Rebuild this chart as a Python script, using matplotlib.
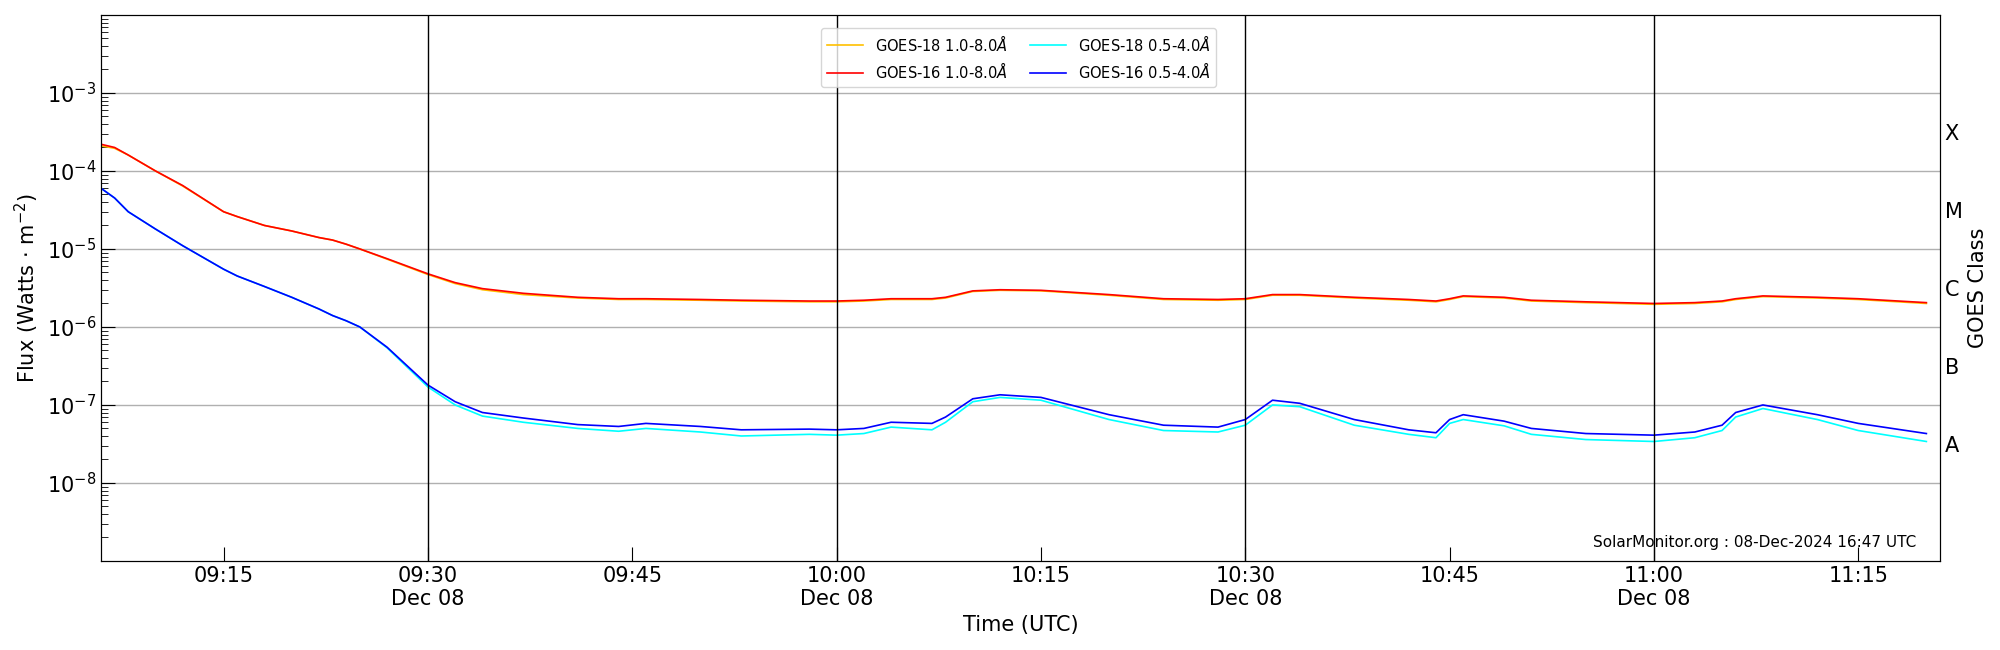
import matplotlib
matplotlib.use("Agg")
import matplotlib.pyplot as plt
import matplotlib.dates as mdates
import matplotlib.ticker as mticker
import pandas as pd
import numpy as np

times = ["09:06","09:07","09:08","09:10","09:12","09:15","09:16","09:18","09:20","09:22","09:23","09:24","09:25","09:27",
         "09:30","09:32","09:34","09:37","09:41","09:44","09:46","09:50","09:53","09:58","10:00","10:02","10:04","10:07",
         "10:08","10:10","10:12","10:15","10:20","10:24","10:28","10:30","10:32","10:34","10:38","10:42","10:44","10:45",
         "10:46","10:49","10:51","10:55","11:00","11:03","11:05","11:06","11:08","11:12","11:15","11:20"]
g16_long = [2.2e-4,2.0e-4,1.6e-4,1.0e-4,6.5e-5,3.0e-5,2.6e-5,2.0e-5,1.7e-5,1.4e-5,1.3e-5,1.15e-5,1.0e-5,7.5e-6,
            4.8e-6,3.7e-6,3.1e-6,2.7e-6,2.4e-6,2.3e-6,2.3e-6,2.25e-6,2.2e-6,2.15e-6,2.15e-6,2.2e-6,2.3e-6,2.3e-6,
            2.4e-6,2.9e-6,3.0e-6,2.95e-6,2.6e-6,2.3e-6,2.25e-6,2.3e-6,2.6e-6,2.6e-6,2.4e-6,2.25e-6,2.15e-6,2.3e-6,
            2.5e-6,2.4e-6,2.2e-6,2.1e-6,2.0e-6,2.05e-6,2.15e-6,2.3e-6,2.5e-6,2.4e-6,2.3e-6,2.05e-6]
g18_long = [2.1e-4,1.95e-4,1.6e-4,1.0e-4,6.4e-5,3.0e-5,2.6e-5,2.0e-5,1.7e-5,1.4e-5,1.3e-5,1.15e-5,1.0e-5,7.4e-6,
            4.7e-6,3.6e-6,3.0e-6,2.6e-6,2.35e-6,2.25e-6,2.25e-6,2.2e-6,2.15e-6,2.1e-6,2.1e-6,2.15e-6,2.25e-6,2.25e-6,
            2.35e-6,2.85e-6,2.95e-6,2.9e-6,2.55e-6,2.25e-6,2.2e-6,2.25e-6,2.55e-6,2.55e-6,2.35e-6,2.2e-6,2.1e-6,2.25e-6,
            2.45e-6,2.35e-6,2.15e-6,2.05e-6,1.95e-6,2.0e-6,2.1e-6,2.25e-6,2.45e-6,2.35e-6,2.25e-6,2.0e-6]
g16_short = [6.0e-5,4.5e-5,3.0e-5,1.8e-5,1.1e-5,5.5e-6,4.5e-6,3.3e-6,2.4e-6,1.7e-6,1.4e-6,1.2e-6,1.0e-6,5.5e-7,
             1.8e-7,1.1e-7,8.0e-8,6.8e-8,5.6e-8,5.3e-8,5.8e-8,5.3e-8,4.8e-8,4.9e-8,4.8e-8,5.0e-8,6.0e-8,5.8e-8,
             7.0e-8,1.2e-7,1.35e-7,1.25e-7,7.5e-8,5.5e-8,5.2e-8,6.5e-8,1.15e-7,1.05e-7,6.5e-8,4.8e-8,4.4e-8,6.5e-8,
             7.5e-8,6.2e-8,5.0e-8,4.3e-8,4.1e-8,4.5e-8,5.5e-8,8.0e-8,1.0e-7,7.5e-8,5.8e-8,4.3e-8]
g18_short = [6.0e-5,4.5e-5,3.0e-5,1.8e-5,1.1e-5,5.5e-6,4.5e-6,3.3e-6,2.4e-6,1.7e-6,1.4e-6,1.2e-6,1.0e-6,5.4e-7,
             1.7e-7,1.0e-7,7.2e-8,6.0e-8,5.0e-8,4.6e-8,5.0e-8,4.5e-8,4.0e-8,4.2e-8,4.1e-8,4.3e-8,5.2e-8,4.8e-8,
             6.0e-8,1.1e-7,1.25e-7,1.15e-7,6.5e-8,4.7e-8,4.5e-8,5.5e-8,1.0e-7,9.5e-8,5.5e-8,4.2e-8,3.8e-8,5.8e-8,
             6.5e-8,5.4e-8,4.2e-8,3.6e-8,3.4e-8,3.8e-8,4.7e-8,7.0e-8,9.0e-8,6.5e-8,4.7e-8,3.4e-8]
class_labels = ["A","B","C","M","X"]

t = pd.to_datetime(["2024-12-08 " + s for s in times])

fig = plt.figure(figsize=(20, 6.5), dpi=100)
ax = fig.add_axes([0.0505, 0.137, 0.9195, 0.84])
ax.plot(t, g18_long, color="#FFC000", lw=1.2, label="GOES-18 1.0-8.0$\\AA$")
ax.plot(t, g16_long, color="red", lw=1.2, label="GOES-16 1.0-8.0$\\AA$")
ax.plot(t, g18_short, color="cyan", lw=1.2, label="GOES-18 0.5-4.0$\\AA$")
ax.plot(t, g16_short, color="blue", lw=1.2, label="GOES-16 0.5-4.0$\\AA$")
ax.set_yscale("log")
ax.set_ylim(1e-9, 1e-2)
ax.set_xlim(pd.Timestamp("2024-12-08 09:06"), pd.Timestamp("2024-12-08 11:21"))
ax.set_yticks([1e-8,1e-7,1e-6,1e-5,1e-4,1e-3])
ax.yaxis.set_minor_locator(mticker.LogLocator(base=10, subs=np.arange(2, 10), numticks=20))
ax.yaxis.set_minor_formatter(mticker.NullFormatter())
ax.yaxis.grid(True, which="major", color="#b0b0b0", lw=1)
for v in ["09:30","10:00","10:30","11:00"]:
    ax.axvline(pd.Timestamp("2024-12-08 " + v), color="black", lw=1)
ax.xaxis.set_major_locator(mdates.MinuteLocator(byminute=[0,15,30,45]))
def fmt(x, pos):
    d = mdates.num2date(x)
    s = d.strftime("%H:%M")
    if d.minute in (0, 30):
        s += "\n" + d.strftime("Dec %d")
    return s
ax.xaxis.set_major_formatter(plt.FuncFormatter(fmt))
ax.tick_params(which="both", direction="in", labelsize=15)
ax.tick_params(which="major", length=10)
ax.tick_params(which="minor", length=5)
ax.set_ylabel("Flux (Watts $\\cdot$ m$^{-2}$)", fontsize=15)
ax.set_xlabel("Time (UTC)", fontsize=15)

ax2 = ax.twinx()
ax2.set_yscale("log")
ax2.set_ylim(1e-9, 1e-2)
ax2.set_yticks([10**-7.5,10**-6.5,10**-5.5,10**-4.5,10**-3.5])
ax2.set_yticklabels(class_labels)
ax2.yaxis.set_minor_locator(mticker.NullLocator())
ax2.tick_params(length=0, labelsize=15)
ax2.set_ylabel("GOES Class", fontsize=15)

ax.legend(loc="upper center", ncol=2, fontsize=10.5, bbox_to_anchor=(0.499, 0.99),
          columnspacing=1.5, handlelength=2.5)
ax.text(0.987, 0.02, "SolarMonitor.org : 08-Dec-2024 16:47 UTC", transform=ax.transAxes,
        ha="right", va="bottom", fontsize=11)
fig.savefig("out.png", dpi=100)
